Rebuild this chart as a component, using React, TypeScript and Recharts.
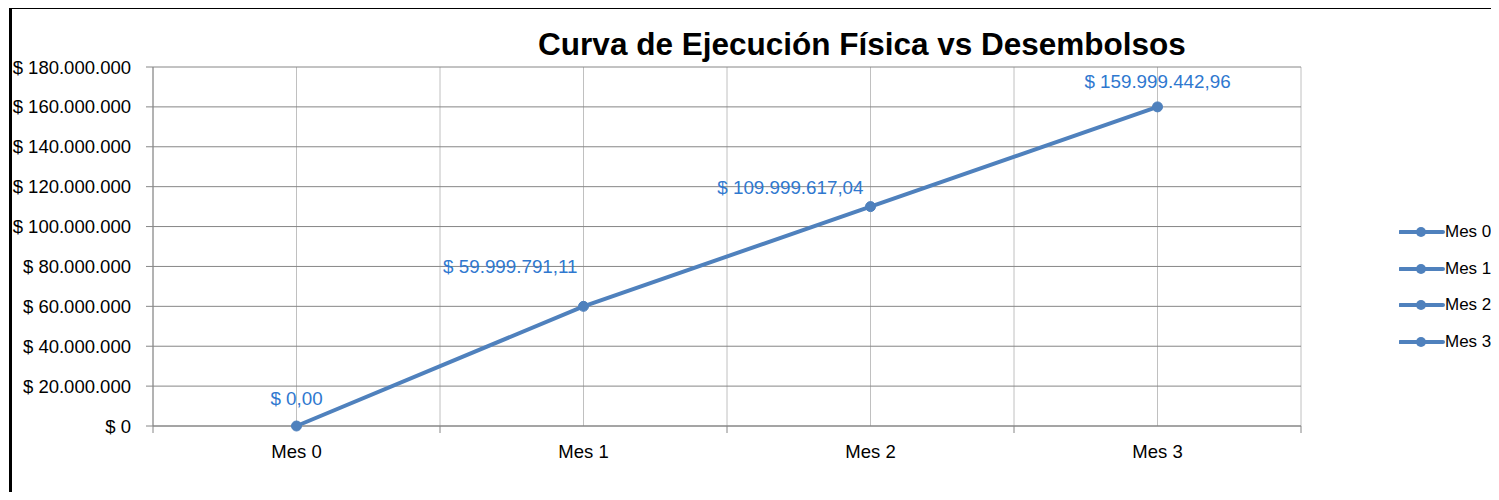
import React from 'react';
import { LineChart, Line, XAxis, YAxis, CartesianGrid, LabelList } from 'recharts';

const categories = ['Mes 0', 'Mes 1', 'Mes 2', 'Mes 3'];
const values = [0, 59999791.11, 109999617.04, 159999442.96];
const yTicks = [0, 20000000, 40000000, 60000000, 80000000, 100000000, 120000000, 140000000, 160000000, 180000000];
const title = 'Curva de Ejecución Física vs Desembolsos';

const data = categories.map((name, i) => ({ idx: i, name, value: values[i] }));
const xTicks = categories.flatMap((_, i) => [i - 0.5, i]).concat(categories.length - 0.5);

const FONT = '"Liberation Sans", Arial, sans-serif';
const LINE = '#4F81BD';
const LABEL = '#2F78CF';
const AXIS = '#868686';
const VGRID = '#C0C0C0';

const dots = (s: string) => s.replace(/\B(?=(\d{3})+(?!\d))/g, '.');
const fmtTick = (v: number) => `$ ${dots(String(Math.round(v)))}`;
const fmtLabel = (v: number) => {
  const [i, d] = v.toFixed(2).split('.');
  return `$ ${dots(i)},${d}`;
};

const TICK_MARGIN = 19;

const XTick = (props: any) => {
  const { x, y, payload } = props;
  const v = payload.value as number;
  if (Number.isInteger(v)) {
    return (
      <text x={x} y={y} dy="0.71em" textAnchor="middle" fontFamily={FONT} fontSize={18.5} fill="#000">
        {categories[v]}
      </text>
    );
  }
  const axisY = y - TICK_MARGIN;
  return <line x1={x} x2={x} y1={axisY} y2={axisY + 7} stroke={AXIS} strokeWidth={1} />;
};

const labelOffsets = [
  { anchor: 'middle', dx: 0, dy: -21 },
  { anchor: 'end', dx: -6, dy: -33 },
  { anchor: 'end', dx: -7, dy: -13 },
  { anchor: 'middle', dx: 0, dy: -19 },
];

const DataLabel = (props: any) => {
  const { x, y, index, value } = props;
  const o = labelOffsets[index] || labelOffsets[0];
  return (
    <text x={x + o.dx} y={y + o.dy} textAnchor={o.anchor} fontFamily={FONT} fontSize={18.8} fill={LABEL}>
      {fmtLabel(value)}
    </text>
  );
};

const LegendBox = () => (
  <div
    style={{
      position: 'absolute',
      left: 1387,
      top: 205,
      width: 95,
      whiteSpace: 'nowrap',
      fontFamily: FONT,
      fontSize: 17,
      color: '#000',
    }}
  >
    {categories.map((c) => (
      <div key={c} style={{ display: 'flex', alignItems: 'center', height: 36.5 }}>
        <svg width={46} height={12} style={{ display: 'block', flex: 'none' }}>
          <line x1={1} x2={44} y1={6} y2={6} stroke={LINE} strokeWidth={4} strokeLinecap="round" />
          <circle cx={22} cy={6} r={5} fill={LINE} />
        </svg>
        <span style={{ flex: 'none' }}>{c}</span>
      </div>
    ))}
  </div>
);

export default function App() {
  return (
    <div
      style={{
        position: 'relative',
        marginTop: -3,
        marginLeft: 1,
        marginBottom: -8,
        width: 1479,
        height: 491,
        borderTop: '4px solid #000',
        borderLeft: '3px solid #000',
        background: '#fff',
        overflow: 'hidden',
      }}
    >
      <div
        style={{
          position: 'absolute',
          left: 0,
          width: 1700,
          top: 16,
          textAlign: 'center',
          fontFamily: FONT,
          fontWeight: 'bold',
          fontSize: 31.5,
          color: '#000',
          lineHeight: '38px',
        }}
      >
        {title}
      </div>
      <LineChart width={1479} height={480} data={data} margin={{ top: 58, right: 190, bottom: 33, left: 0 }}>
        <CartesianGrid horizontal={false} vertical stroke={VGRID} />
        <CartesianGrid horizontal vertical={false} stroke={AXIS} />
        <XAxis
          dataKey="idx"
          type="number"
          domain={[-0.5, categories.length - 0.5]}
          ticks={xTicks}
          interval={0}
          tickLine={false}
          tickSize={0}
          tickMargin={TICK_MARGIN}
          axisLine={{ stroke: AXIS }}
          tick={<XTick />}
          height={30}
          allowDecimals
        />
        <YAxis
          type="number"
          domain={[0, 180000000]}
          ticks={yTicks}
          interval={0}
          tickFormatter={fmtTick}
          tickSize={7}
          tickMargin={15}
          tickLine={{ stroke: AXIS }}
          axisLine={{ stroke: AXIS }}
          tick={{ fontFamily: FONT, fontSize: 18.5, fill: '#000' }}
          width={141}
        />
        <Line
          type="linear"
          dataKey="value"
          stroke={LINE}
          strokeWidth={4}
          dot={{ r: 5, fill: LINE, stroke: LINE, strokeWidth: 1 }}
          activeDot={false}
          isAnimationActive={false}
        >
          <LabelList dataKey="value" content={<DataLabel />} />
        </Line>
      </LineChart>
      <LegendBox />
    </div>
  );
}
